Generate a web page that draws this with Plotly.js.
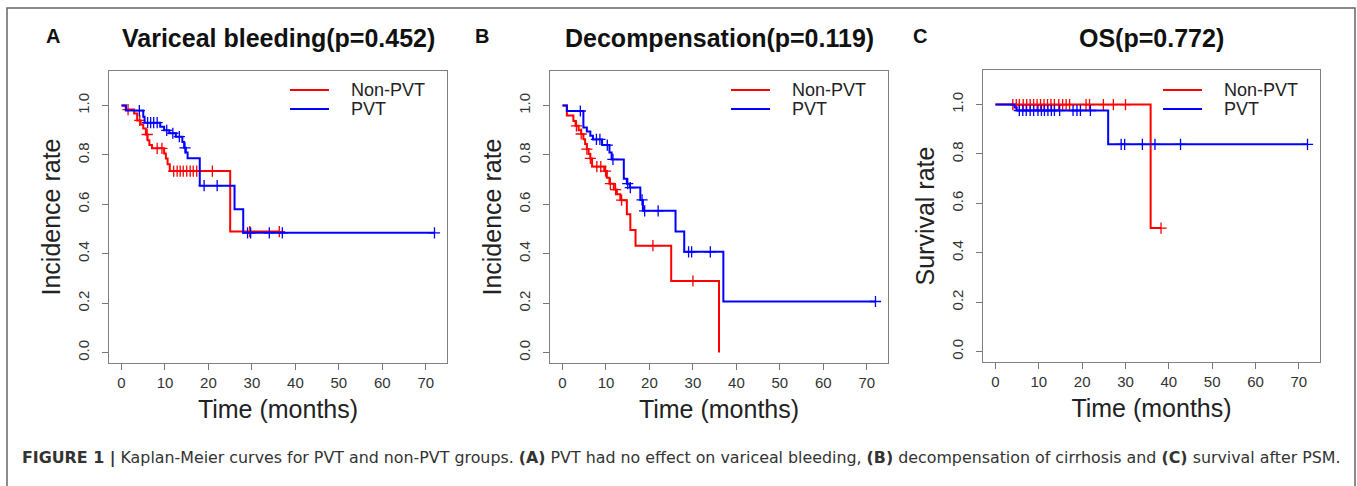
<!DOCTYPE html>
<html><head><meta charset="utf-8">
<script src="https://cdn.plot.ly/plotly-3.0.1.min.js"></script>
<style>html,body{margin:0;padding:0;background:#fff}#chart{width:1357px;height:486px}</style>
</head><body><div id="chart"></div>
<script>
// ---------- data ----------
const xTicks = [0, 10, 20, 30, 40, 50, 60, 70];
const yTicks = [0, 0.2, 0.4, 0.6, 0.8, 1.0];
const seriesNames = ['Non-PVT', 'PVT'];
const panelLetters = ['A', 'B', 'C'];
const panelTitles = ['Variceal bleeding(p=0.452)', 'Decompensation(p=0.119)', 'OS(p=0.772)'];
const yTitles = ['Incidence rate', 'Incidence rate', 'Survival rate'];
const xTitle = 'Time (months)';
const caption = '<b>FIGURE 1 |</b> Kaplan-Meier curves for PVT and non-PVT groups. <b>(A)</b> PVT had no effect on variceal bleeding, <b>(B)</b> decompensation of cirrhosis and <b>(C)</b> survival after PSM.';

// Panel A - variceal bleeding
const aNonTime = [0, 1.0, 2.9, 3.6, 4.4, 5.0, 5.6, 6.0, 6.4, 7.0, 9.8, 10.2, 10.6, 11.1, 25.0];
const aNonSurv = [1.0, 0.984, 0.968, 0.94, 0.923, 0.907, 0.883, 0.86, 0.84, 0.827, 0.806, 0.786, 0.763, 0.735, 0.49];
const aNonCens = [1.5, 4.2, 5.9, 8.2, 9.3, 12.0, 12.8, 13.5, 14.2, 15.0, 15.8, 16.5, 17.3, 20.9, 29.5, 36.3];
const aPvtTime = [0, 1.0, 5.0, 5.3, 8.9, 9.8, 11.0, 12.5, 14.0, 14.4, 14.8, 15.2, 18.0, 26.0, 28.0];
const aPvtSurv = [1.0, 0.98, 0.955, 0.931, 0.914, 0.9, 0.888, 0.874, 0.853, 0.829, 0.81, 0.787, 0.676, 0.58, 0.485];
const aPvtCens = [4.1, 6.0, 6.7, 7.4, 8.2, 10.4, 11.8, 13.3, 14.6, 19.0, 22.0, 29.0, 29.7, 34.0, 37.0, 72.0];

// Panel B - decompensation
const bNonTime = [0, 1.0, 2.5, 3.0, 3.7, 4.3, 4.8, 5.2, 5.6, 6.0, 6.4, 6.8, 9.6, 10.2, 10.8, 11.8, 12.5, 13.3, 14.8, 15.6, 16.8, 25.0, 36.0];
const bNonSurv = [1.0, 0.96, 0.938, 0.918, 0.9, 0.885, 0.864, 0.844, 0.824, 0.804, 0.786, 0.753, 0.735, 0.708, 0.684, 0.66, 0.641, 0.617, 0.56, 0.496, 0.433, 0.29, 0.0];
const bNonCens = [3.2, 4.3, 5.6, 6.4, 7.9, 8.8, 9.9, 11.0, 12.2, 13.6, 20.8, 30.0];
const bPvtTime = [0, 1.0, 4.8, 5.6, 6.4, 7.0, 9.1, 10.8, 11.3, 14.1, 14.8, 15.5, 17.9, 18.5, 26.0, 28.0, 37.0];
const bPvtSurv = [1.0, 0.978, 0.911, 0.895, 0.878, 0.863, 0.84, 0.81, 0.782, 0.704, 0.684, 0.668, 0.618, 0.574, 0.49, 0.408, 0.207];
const bPvtCens = [4.1, 7.8, 8.6, 10.3, 11.6, 15.0, 15.6, 18.3, 18.9, 22.0, 29.0, 29.7, 34.0, 72.0];

// Panel C - overall survival
const cNonTime = [0, 35.8];
const cNonSurv = [1.0, 0.5];
const cNonCens = [4.0, 4.8, 5.5, 6.4, 7.2, 8.0, 8.8, 9.6, 10.4, 11.2, 12.0, 12.8, 13.6, 14.6, 15.5, 16.3, 17.1, 20.9, 21.7, 24.9, 27.2, 30.0, 38.2];
const cPvtTime = [0, 4.4, 4.9, 26.0];
const cPvtSurv = [1.0, 0.988, 0.976, 0.839];
const cPvtCens = [5.5, 6.3, 7.1, 8.0, 8.8, 9.8, 10.6, 11.3, 12.1, 12.9, 13.6, 14.8, 17.9, 18.8, 19.6, 21.9, 29.0, 29.8, 33.9, 36.8, 42.7, 72.0];

// ---------- drawing ----------
const FONT = 'Liberation Sans, Arial, Helvetica, sans-serif';
const CAPFONT = 'DejaVu Sans, Liberation Sans, Arial, sans-serif';
const colors = ['#ff0000', '#0000ff'];
const W = 1357, H = 486;
const px = v => v / W;
const py = v => 1 - v / H;

const panels = [
  {series: [[aNonTime, aNonSurv, aNonCens], [aPvtTime, aPvtSurv, aPvtCens]], box: [109, 447, 71, 363]},
  {series: [[bNonTime, bNonSurv, bNonCens], [bPvtTime, bPvtSurv, bPvtCens]], box: [550, 888, 71, 363]},
  {series: [[cNonTime, cNonSurv, cNonCens], [cPvtTime, cPvtSurv, cPvtCens]], box: [983, 1320, 70, 362]}
];

function survAt(times, surv, t) {
  let v = surv[0];
  for (let i = 0; i < times.length; i++) if (times[i] <= t) v = surv[i];
  return v;
}

const data = [];
const layout = {
  width: W, height: H,
  margin: {l: 0, r: 0, t: 0, b: 0},
  paper_bgcolor: '#fff', plot_bgcolor: '#fff',
  showlegend: false,
  shapes: [], annotations: []
};

panels.forEach((p, k) => {
  const sx = k === 0 ? '' : String(k + 1);
  const xa = 'x' + sx, ya = 'y' + sx;
  p.series.forEach((s, j) => {
    const [times, surv, cens] = s;
    const last = times.length - 1;
    const end = Math.max(times[last], ...cens);
    const xs = times.slice(), ys = surv.slice();
    if (end > times[last]) { xs.push(end); ys.push(surv[last]); }
    data.push({x: xs, y: ys, xaxis: xa, yaxis: ya, type: 'scatter', mode: 'lines',
      line: {shape: 'hv', color: colors[j], width: 2}, name: seriesNames[j], hoverinfo: 'skip'});
    data.push({x: cens, y: cens.map(t => survAt(times, surv, t)), xaxis: xa, yaxis: ya,
      type: 'scatter', mode: 'markers', name: seriesNames[j] + ' censored',
      marker: {symbol: 'cross-thin-open', size: 8, color: colors[j], line: {color: colors[j], width: 1.3}},
      hoverinfo: 'skip'});
  });
  const [x0, x1, y0, y1] = p.box;
  layout['xaxis' + sx] = {
    domain: [px(x0), px(x1)], anchor: ya, range: [-2.88, 74.88],
    tickmode: 'array', tickvals: xTicks, ticktext: xTicks.map(String),
    ticks: 'outside', ticklen: 6, tickwidth: 1, tickcolor: '#777',
    showline: true, linecolor: '#808080', linewidth: 1.3, mirror: true,
    showgrid: false, zeroline: false,
    tickfont: {family: FONT, size: 15, color: '#333'},
    title: {text: xTitle, font: {family: FONT, size: 25, color: '#222'}, standoff: 10}
  };
  layout['yaxis' + sx] = {
    domain: [py(y1), py(y0)], anchor: xa, range: [-0.042, 1.14],
    tickmode: 'array', tickvals: yTicks, ticktext: yTicks.map(v => v.toFixed(1)),
    tickangle: -90, ticklabelstandoff: 7,
    ticks: 'outside', ticklen: 6, tickwidth: 1, tickcolor: '#777',
    showline: true, linecolor: '#808080', linewidth: 1.3, mirror: true,
    showgrid: false, zeroline: false,
    tickfont: {family: FONT, size: 15, color: '#333'},
    title: {text: yTitles[k], font: {family: FONT, size: 25, color: '#222'}, standoff: 7}
  };
  // title and letter
  layout.annotations.push({text: '<b>' + panelTitles[k] + '</b>', xref: 'paper', yref: 'paper',
    x: px((x0 + x1) / 2), y: py(38), xanchor: 'center', yanchor: 'middle', showarrow: false,
    font: {family: FONT, size: 25, color: '#111'}});
  const letterX = [53, 482, 920][k];
  layout.annotations.push({text: '<b>' + panelLetters[k] + '</b>', xref: 'paper', yref: 'paper',
    x: px(letterX), y: py(36), xanchor: 'center', yanchor: 'middle', showarrow: false,
    font: {family: FONT, size: 20, color: '#111'}});
  // legend (key lines + labels inside the plot box)
  const lx = x1 - 157;
  [90, 109].forEach((ly, j) => {
    layout.shapes.push({type: 'line', xref: 'paper', yref: 'paper',
      x0: px(lx), x1: px(lx + 39), y0: py(ly), y1: py(ly), line: {color: colors[j], width: 2}});
    layout.annotations.push({text: seriesNames[j], xref: 'paper', yref: 'paper',
      x: px(lx + 59), y: py(ly), xanchor: 'left', yanchor: 'middle', showarrow: false,
      font: {family: FONT, size: 18, color: '#222'}});
  });
});

// outer frame
layout.shapes.push({type: 'rect', xref: 'paper', yref: 'paper', x0: px(7), x1: px(1355), y0: py(8), y1: py(495),
  line: {color: '#666', width: 1.5}, fillcolor: 'rgba(0,0,0,0)', layer: 'below'});
// caption
layout.annotations.push({text: caption, xref: 'paper', yref: 'paper', x: px(20), y: py(458),
  xanchor: 'left', yanchor: 'middle', showarrow: false, font: {family: CAPFONT, size: 15.85, color: '#333'}});

Plotly.newPlot('chart', data, layout, {displayModeBar: false, staticPlot: true});
</script></body></html>
